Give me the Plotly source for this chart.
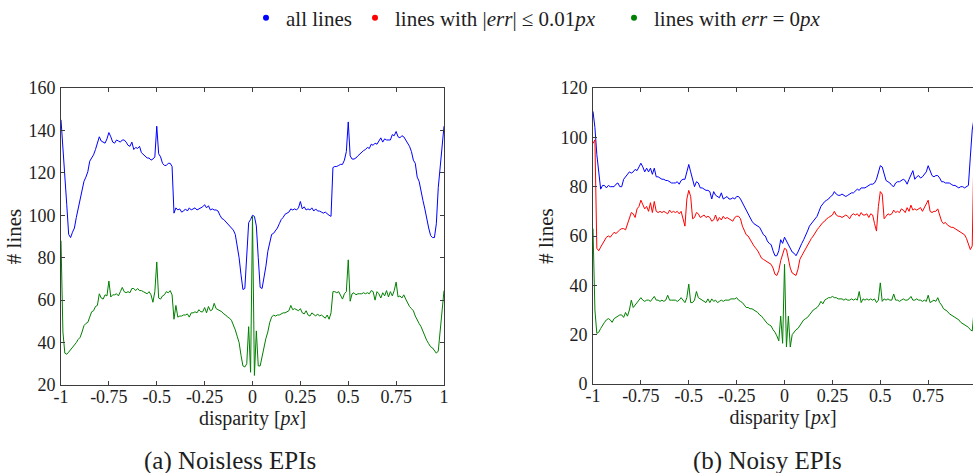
import plotly.graph_objects as go

# disparity samples shared by every curve
disparity = [round(-1 + 0.01 * i, 2) for i in range(201)]

# (a) noiseless EPIs
noiseless_all = [
    145, 133, 120, 105, 91, 89.5, 92, 94, 99, 103.5,
    108, 113, 116, 118, 120.5, 125.5, 127, 128.5, 131, 134,
    137, 135, 134.5, 134, 136, 139, 137, 134.5, 134, 135.5,
    135, 134.5, 135.5, 135.5, 134.5, 133, 132.5, 134.5, 131, 132,
    131.5, 132.5, 129.5, 128.5, 128, 127, 127, 126, 126.5, 127.5,
    142, 129, 127.5, 124.5, 123.5, 123.5, 124.5, 124.5, 123, 101,
    103.5, 102.5, 103, 101.5, 102, 103, 102, 103.5, 102.5, 103,
    103.5, 102.5, 103, 103.5, 104, 105, 103.5, 104.5, 102.5, 103,
    102.5, 102.5, 102, 100, 98.5, 98, 97, 96, 95, 94,
    93, 91, 86, 80, 72, 65, 65.5, 80, 96.5, 98,
    100, 99.5, 95, 80, 66, 65.5, 70, 76, 83, 88,
    91, 91.5, 92.5, 94, 96, 98, 99, 100.5, 101, 101.5,
    103, 102.5, 103, 102.5, 103.5, 106.5, 103, 104, 102.5, 103,
    102.5, 103.5, 102, 103, 102, 102, 101.5, 101, 101.5, 100.5,
    100, 99.5, 122.5, 123, 123, 123.5, 124, 124, 126, 130,
    144, 128, 126.5, 126.5, 127, 128, 129, 129.5, 130.5, 131,
    132, 131.5, 133.5, 133, 134, 133.5, 135, 136.5, 134.5, 136,
    135.5, 135.5, 135.5, 138, 137.5, 139.5, 137, 136.5, 137.5, 137,
    135.5, 134.5, 132.5, 130, 126, 124.5, 118, 116, 111, 107,
    103, 98, 94, 90.5, 89.5, 89.5, 96, 113, 124, 134,
    142,
]
noiseless_exact = [
    88, 45, 35, 34.5, 35.5, 36.5, 37.5, 38.5, 40, 41.5,
    42.5, 45, 48, 49, 49.5, 52, 54.5, 55, 57, 57.5,
    63, 61, 60.5, 62.5, 62, 69, 61.5, 62.5, 62.5, 63,
    62, 64, 66, 64, 63.5, 64, 63.5, 65.5, 65.5, 64.5,
    65.5, 64.5, 64.5, 64, 63.5, 63, 64, 62.5, 59, 64,
    78, 61, 60.5, 62, 62.5, 64, 63.5, 64.5, 62.5, 51,
    57.5, 52, 52.5, 52.5, 53, 53, 53.5, 52, 54, 54,
    54.5, 54, 55.5, 54.5, 54.5, 56.5, 54, 57, 55, 55.5,
    58.5, 56, 55.5, 55, 54.5, 53.5, 53, 52, 51.5, 50.5,
    48.5, 46, 43, 40, 34, 29, 28.5, 30, 47.5, 26,
    99.5, 24.5, 45.5, 29, 29, 34, 38, 42, 45, 49.5,
    52, 53, 52.5, 53, 53, 53.5, 54, 54, 54.5, 55,
    57.5, 55.5, 56, 55.5, 55, 56, 54, 53.5, 55, 53,
    52.5, 54, 53, 52.5, 53.5, 52.5, 53, 52, 51.5, 53,
    51, 54, 64, 64, 63.5, 64, 62, 60.5, 63, 64,
    79, 59.5, 63, 63.5, 62.5, 63, 63, 63, 63.5, 63,
    63.5, 63, 64.5, 64, 60, 64, 63, 61, 63.5, 62,
    64.5, 61.5, 64, 62, 64.5, 68.5, 61.5, 62, 61, 62.5,
    60.5, 58.5, 57, 56, 55, 52.5, 50.5, 49, 47.5, 45,
    42.5, 41, 39.5, 38, 37.5, 36.5, 35, 36, 45, 56,
    64.5,
]

# (b) noisy EPIs
noisy_all = [
    110.5, 104, 93, 85, 79, 80.5, 80.5, 79.5, 80.5, 80,
    80, 80, 81, 81.5, 80, 80, 83, 84, 85, 86,
    85.5, 86, 87, 86.5, 88, 89.5, 88, 86, 87.5, 86,
    87.5, 85, 87.5, 84, 84, 83.5, 83, 83, 82.5, 82.5,
    82, 81.5, 81.5, 81.5, 82, 81, 82.5, 83, 83, 86,
    89, 86, 83.5, 80, 82, 81.5, 79.5, 79.5, 79, 78.5,
    78.5, 78, 75, 78, 76.5, 76, 75.5, 77.5, 75, 75.5,
    76, 75, 75, 75.5, 75, 76, 76, 75, 73.5, 72,
    70, 68.5, 67.5, 66, 65, 64.5, 64, 63.5, 62, 60.5,
    60, 58, 57, 56.5, 54, 52, 52, 54, 58.5, 57,
    59.5, 58, 56, 54.5, 53.5, 53, 52, 53.5, 55.5, 57,
    58.5, 60, 62, 64, 65, 66, 67, 68, 70, 72,
    73, 74, 74.5, 75, 76, 76.5, 78, 77, 76.5, 76.5,
    77, 76.5, 76, 76.5, 77, 77.5, 77.5, 78.5, 79, 78.5,
    79.5, 79.5, 79.5, 80, 80.5, 81, 81, 81.5, 83, 86,
    88.5, 88, 85, 82.5, 82, 81.5, 80.5, 80, 81.5, 82,
    82, 82.5, 83, 82.5, 81, 83, 84.5, 86.5, 83, 84,
    84.5, 83.5, 84, 85, 86, 88.5, 86, 84.5, 84, 84.5,
    84.5, 83.5, 82, 82, 81.5, 81.5, 81.5, 81, 80.5, 80.5,
    80, 79.5, 80, 80, 79.5, 80, 80.5, 92, 103, 108,
    110,
]
noisy_close = [
    97.5, 99, 55, 54, 55.5, 57, 58, 59.5, 60, 59.5,
    60.5, 61.5, 61, 62, 62.5, 63, 63, 62.5, 65, 67.5,
    69.5, 69, 67.5, 71, 72, 74.5, 72.5, 71, 72, 70,
    73.5, 69.5, 74, 70, 69.5, 70, 69.5, 70, 69.5, 69,
    70.5, 69.5, 70, 69.5, 70, 69, 70, 67, 64, 75,
    78.5, 76, 67, 67.5, 69.5, 69, 67.5, 68, 68.5, 67.5,
    68, 67.5, 66, 66.5, 68.5, 66, 67.5, 66.5, 68, 67,
    67.5, 67, 66.5, 66, 67.5, 68, 68, 67, 64, 62.5,
    60.5, 60, 58.5, 57, 56, 55, 54, 52.5, 51, 50.5,
    50, 49.5, 49, 48.5, 47, 44.5, 44, 46, 50, 53,
    55, 54.5, 51, 47, 45, 44.5, 44, 46.5, 50.5, 52,
    53.5, 55, 56.5, 58, 59, 60, 61.5, 62.5, 63.5, 64.5,
    65.5, 66, 67, 67.5, 68, 68.5, 70, 68.5, 68, 68,
    67.5, 68, 68.5, 68, 67, 68.5, 69, 68.5, 69, 68,
    69.5, 68.5, 68.5, 69, 67.5, 69, 68.5, 65, 62, 72,
    78, 77, 67, 68, 69, 68.5, 69, 70.5, 69.5, 70,
    69.5, 71, 70.5, 69.5, 71.5, 70, 72.5, 70.5, 71, 70.5,
    71, 71.5, 70, 71.5, 73, 74.5, 70, 69.5, 70, 70,
    71, 68.5, 66, 65, 65.5, 64.5, 64, 63.5, 63.5, 63,
    62.5, 62, 61.5, 61, 60.5, 59, 56.5, 54.5, 56, 99,
    97,
]
noisy_exact = [
    63, 30, 20.5, 21, 22.5, 24, 25, 26, 26.5, 26,
    25, 26.5, 27, 27.5, 28, 28, 27, 29, 27.5, 30,
    34, 31, 32, 33, 34, 35, 34, 33.5, 34, 34,
    33.5, 34.5, 35.5, 34, 34, 33.5, 34, 33.5, 34, 36,
    34, 34, 34, 34, 33.5, 34, 35, 34, 33, 35,
    40.5, 33, 33, 34, 37.5, 35, 34.5, 34, 33.5, 33,
    34.5, 33, 34.5, 33.5, 34, 33, 33.5, 34, 33.5, 34,
    34, 34, 34.5, 34.5, 34.5, 35, 34, 33.5, 33, 32,
    31, 31, 30.5, 30.5, 30, 29.5, 29, 28, 27.5, 26.5,
    25.5, 24.5, 24, 23.5, 22, 21, 19.5, 17.5, 27.5, 16.5,
    48.5, 15, 27.5, 15, 20, 21, 22, 22.5, 23.5, 24.5,
    26, 26.5, 27, 28, 29, 30, 30.5, 31, 32, 33.5,
    32.5, 34, 34.5, 35, 35, 35.5, 35, 35, 34.5, 34.5,
    34.5, 34, 34.5, 34, 34, 34.5, 34, 34.5, 34, 37.5,
    33, 34.5, 34, 34.5, 34, 34.5, 34, 34.5, 33, 34,
    41, 33.5, 34.5, 34, 34.5, 34, 34, 36.5, 34, 34,
    33.5, 34, 34.5, 34, 34, 34.5, 35.5, 34, 34, 34.5,
    34, 34, 33.5, 34, 33.5, 36, 33, 33.5, 34, 33.5,
    35, 33, 32, 30.5, 30, 29.5, 28.5, 28, 27.5, 27,
    26.5, 26, 25, 24.5, 24, 23.5, 23, 22, 21.5, 30,
    33,
]

series_names = [
    "all lines",
    "lines with |<i>err</i>| \u2264 0.01<i>px</i>",
    "lines with <i>err</i> = 0<i>px</i>",
]
series_colors = ["#0000ff", "#ff0000", "#008000"]

x_tick_vals = [-1, -0.75, -0.5, -0.25, 0, 0.25, 0.5, 0.75, 1]
x_tick_text = ["-1", "-0.75", "-0.5", "-0.25", "0", "0.25", "0.5", "0.75", "1"]
left_y_ticks = [20, 40, 60, 80, 100, 120, 140, 160]
right_y_ticks = [0, 20, 40, 60, 80, 100, 120]

captions = ["(a) Noisless EPIs", "(b) Noisy EPIs"]

FONT = "Liberation Serif"
INK = "#1e1e1e"
AXIS = "#3c3c3c"
W, H = 973, 473

fig = go.Figure()

line_cfg = dict(mode="lines", showlegend=False, hoverinfo="skip")
fig.add_trace(go.Scatter(x=disparity, y=noiseless_all, line=dict(color=series_colors[0], width=1),
                         xaxis="x", yaxis="y", **line_cfg))
fig.add_trace(go.Scatter(x=disparity, y=noiseless_exact, line=dict(color=series_colors[2], width=1),
                         xaxis="x", yaxis="y", **line_cfg))
fig.add_trace(go.Scatter(x=disparity, y=noisy_all, line=dict(color=series_colors[0], width=1),
                         xaxis="x2", yaxis="y2", **line_cfg))
fig.add_trace(go.Scatter(x=disparity, y=noisy_close, line=dict(color=series_colors[1], width=1),
                         xaxis="x2", yaxis="y2", **line_cfg))
fig.add_trace(go.Scatter(x=disparity, y=noisy_exact, line=dict(color=series_colors[2], width=1),
                         xaxis="x2", yaxis="y2", **line_cfg))

# one dot-style legend entry per series, each in its own legend box
legend_ids = ["legend", "legend2", "legend3"]
legend_left = [246, 355, 614]
for name, color, lid in zip(series_names, series_colors, legend_ids):
    fig.add_trace(go.Scatter(x=[None], y=[None], mode="markers", name=name, legend=lid,
                             marker=dict(color=color, size=6), xaxis="x", yaxis="y"))

legend_style = dict(orientation="h", xanchor="left", y=1 - 18 / H, yanchor="middle",
                    font=dict(family=FONT, size=21, color=INK), bgcolor="rgba(0,0,0,0)",
                    itemwidth=30, borderwidth=0)

axis_common = dict(
    showline=True, linecolor=AXIS, linewidth=1,
    ticks="inside", ticklen=4, tickwidth=1, tickcolor=AXIS,
    showgrid=False, zeroline=False, automargin=False,
    tickfont=dict(family=FONT, size=18, color=INK),
)
x_common = dict(axis_common, tickvals=x_tick_vals, ticktext=x_tick_text, ticklabelstandoff=-5,
                title=dict(text="disparity [<i>px</i>]", font=dict(family=FONT, size=20, color=INK), standoff=1))
y_common = dict(axis_common, ticklabelstandoff=1)
y_title = dict(text="# lines", font=dict(family=FONT, size=21, color=INK), standoff=1)

caption_style = dict(xref="paper", yref="paper", xanchor="center", yanchor="middle",
                     showarrow=False, font=dict(family=FONT, size=25, color=INK))

fig.update_layout(
    width=W, height=H,
    margin=dict(l=0, r=0, t=0, b=0, autoexpand=False),
    paper_bgcolor="white", plot_bgcolor="white",
    font=dict(family=FONT, color=INK),
    xaxis=dict(x_common, domain=[61 / W, 444 / W], range=[-1, 1], mirror="ticks", anchor="y"),
    yaxis=dict(y_common, domain=[1 - 385 / H, 1 - 88 / H], range=[20, 160],
               tickvals=left_y_ticks, mirror="ticks", anchor="x", title=y_title),
    xaxis2=dict(x_common, domain=[593 / W, 1.0], range=[-1, 0.984], mirror="ticks", anchor="y2"),
    yaxis2=dict(y_common, domain=[1 - 384 / H, 1 - 88 / H], range=[0, 120],
                tickvals=right_y_ticks, mirror=False, anchor="x2", title=y_title),
    legend=dict(legend_style, x=legend_left[0] / W),
    legend2=dict(legend_style, x=legend_left[1] / W),
    legend3=dict(legend_style, x=legend_left[2] / W),
    annotations=[
        dict(caption_style, text=captions[0], x=230 / W, y=1 - 461 / H),
        dict(caption_style, text=captions[1], x=767 / W, y=1 - 461 / H),
    ],
)

fig.write_html("out.html")
